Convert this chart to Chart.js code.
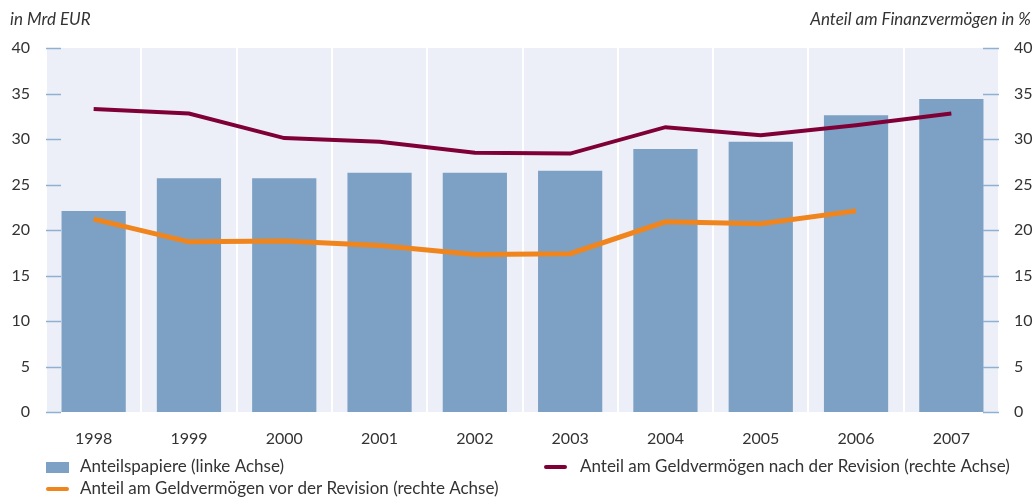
<!DOCTYPE html>
<html>
<head>
<meta charset="utf-8">
<script src="https://cdn.jsdelivr.net/npm/chart.js@4/dist/chart.umd.min.js"></script>
<style>
  html, body { margin: 0; padding: 0; background: #fff; }
  #wrap { width: 1034px; height: 499px; position: relative; }
</style>
</head>
<body>
<div id="wrap"><canvas id="myChart" width="1034" height="499"></canvas></div>
<script>
// data
let years = ["1998", "1999", "2000", "2001", "2002", "2003", "2004", "2005", "2006", "2007"];
let anteilspapiere = [22.1, 25.7, 25.7, 26.3, 26.3, 26.5, 28.9, 29.7, 32.6, 34.4];
let nachRevision = [33.3, 32.8, 30.1, 29.7, 28.5, 28.4, 31.3, 30.4, 31.5, 32.8];
let vorRevision = [21.2, 18.7, 18.8, 18.3, 17.3, 17.4, 20.9, 20.7, 22.1, null];
let yTicks = [0, 5, 10, 15, 20, 25, 30, 35, 40];

let labels = [
  "Anteilspapiere (linke Achse)",
  "Anteil am Geldvermögen nach der Revision (rechte Achse)",
  "Anteil am Geldvermögen vor der Revision (rechte Achse)"
];
let colors = ["#7da1c5", "#7f0036", "#ef851c"];

const FONT = "Lato";
const TXT = "#333333";

// light blue plot background
const bgPlugin = {
  id: "bg",
  beforeDraw(chart) {
    const { ctx, chartArea: a } = chart;
    ctx.save();
    ctx.fillStyle = "#eceff7";
    ctx.fillRect(a.left, a.top, a.right - a.left, a.bottom - a.top);
    ctx.restore();
  }
};

// short tick marks inside the plot, axis titles and legend
const decoPlugin = {
  id: "deco",
  afterDraw(chart) {
    const { ctx, chartArea: a } = chart;
    ctx.save();
    ctx.strokeStyle = "#8fb0d3";
    ctx.lineWidth = 1.5;
    const yl = chart.scales.y, yr = chart.scales.y1;
    yl.ticks.forEach(t => {
      const py = Math.round(yl.getPixelForValue(t.value)) + 0.5;
      ctx.beginPath(); ctx.moveTo(a.left, py); ctx.lineTo(a.left + 15, py); ctx.stroke();
    });
    yr.ticks.forEach(t => {
      const py = Math.round(yr.getPixelForValue(t.value)) + 0.5;
      ctx.beginPath(); ctx.moveTo(a.right - 16, py); ctx.lineTo(a.right, py); ctx.stroke();
    });

    // axis titles
    ctx.fillStyle = TXT;
    ctx.font = "italic 17px " + FONT;
    ctx.textBaseline = "middle";
    ctx.textAlign = "left";
    ctx.fillText("in Mrd EUR", 10, 20);
    ctx.textAlign = "right";
    ctx.fillText("Anteil am Finanzvermögen in %", 1031, 20);

    // legend
    const ds = chart.data.datasets;
    ctx.font = "17px " + FONT;
    ctx.textAlign = "left";
    // bars
    ctx.fillStyle = ds[0].backgroundColor;
    ctx.fillRect(46, 462, 23, 11);
    ctx.fillStyle = TXT;
    ctx.fillText(ds[0].label, 80, 467);
    // after revision
    ctx.strokeStyle = ds[1].borderColor;
    ctx.lineWidth = 4;
    ctx.lineCap = "round";
    ctx.beginPath(); ctx.moveTo(546, 467); ctx.lineTo(565, 467); ctx.stroke();
    ctx.fillText(ds[1].label, 580, 467);
    // before revision
    ctx.strokeStyle = ds[2].borderColor;
    ctx.beginPath(); ctx.moveTo(48, 489); ctx.lineTo(67, 489); ctx.stroke();
    ctx.fillText(ds[2].label, 80, 489);
    ctx.restore();
  }
};

let ctx = document.getElementById("myChart").getContext("2d");
let myChart = new Chart(ctx, {
  type: "bar",
  data: {
    labels: years,
    datasets: [
      {
        type: "bar",
        label: labels[0],
        data: anteilspapiere,
        backgroundColor: colors[0],
        borderWidth: 0,
        barPercentage: 0.674,
        categoryPercentage: 1,
        yAxisID: "y",
        order: 3
      },
      {
        type: "line",
        label: labels[1],
        data: nachRevision,
        borderColor: colors[1],
        backgroundColor: colors[1],
        borderWidth: 4,
        pointRadius: 0,
        tension: 0,
        yAxisID: "y1",
        order: 1
      },
      {
        type: "line",
        label: labels[2],
        data: vorRevision,
        borderColor: colors[2],
        backgroundColor: colors[2],
        borderWidth: 5,
        pointRadius: 0,
        tension: 0,
        spanGaps: false,
        yAxisID: "y1",
        order: 2
      }
    ]
  },
  options: {
    responsive: false,
    animation: false,
    layout: { padding: { top: 48, left: 0, right: 0, bottom: 0 } },
    plugins: {
      legend: { display: false },
      tooltip: { enabled: false }
    },
    scales: {
      x: {
        offset: true,
        grid: { offset: true, color: "#ffffff", lineWidth: 2, drawTicks: false },
        border: { display: false },
        ticks: {
          color: TXT,
          font: { family: FONT, size: 16 },
          padding: 17,
          autoSkip: false,
          maxRotation: 0
        },
        afterFit(scale) { scale.height = 87; }
      },
      y: {
        position: "left",
        min: 0,
        max: 40,
        afterBuildTicks(scale) { scale.ticks = yTicks.map(v => ({ value: v })); },
        grid: { display: false, drawTicks: false },
        border: { display: false },
        ticks: { color: TXT, font: { family: FONT, size: 16 }, padding: 16 },
        afterFit(scale) { scale.width = 46; }
      },
      y1: {
        position: "right",
        min: 0,
        max: 40,
        afterBuildTicks(scale) { scale.ticks = yTicks.map(v => ({ value: v })); },
        grid: { display: false, drawTicks: false },
        border: { display: false },
        ticks: { color: TXT, font: { family: FONT, size: 16 }, padding: 15 },
        afterFit(scale) { scale.width = 35; }
      }
    }
  },
  plugins: [bgPlugin, decoPlugin]
});
</script>
</body>
</html>
